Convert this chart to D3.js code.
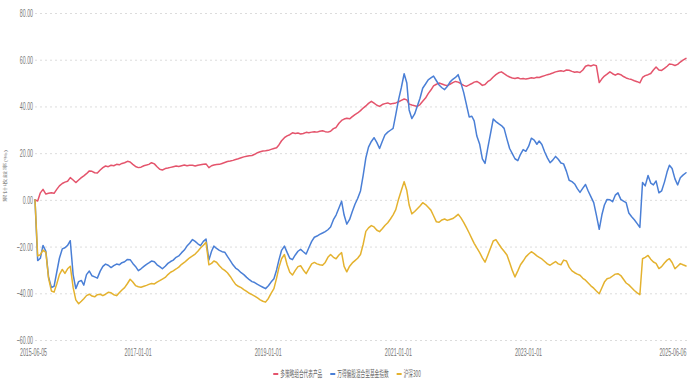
<!DOCTYPE html>
<html><head><meta charset="utf-8">
<script src="https://cdn.jsdelivr.net/npm/d3@7/dist/d3.min.js"></script>
<style>
html,body{margin:0;padding:0;background:#fff;}
svg{display:block;}
</style></head>
<body><svg id="chart" width="700" height="383"></svg>
<script>
const dates = [
"2015-06-05","2015-06-20","2015-07-05","2015-07-20","2015-08-05","2015-08-20","2015-09-05","2015-09-20","2015-10-05","2015-10-20","2015-11-05","2015-11-20","2015-12-05","2015-12-20",
"2016-01-05","2016-01-20","2016-02-05","2016-02-20","2016-03-05","2016-03-20","2016-04-05","2016-04-20","2016-05-05","2016-05-20","2016-06-05","2016-06-20","2016-07-05","2016-07-20","2016-08-05","2016-08-20","2016-09-05","2016-09-20","2016-10-05","2016-10-20","2016-11-05","2016-11-20","2016-12-05","2016-12-20",
"2017-01-05","2017-01-20","2017-02-05","2017-02-20","2017-03-05","2017-03-20","2017-04-05","2017-04-20","2017-05-05","2017-05-20","2017-06-05","2017-06-20","2017-07-05","2017-07-20","2017-08-05","2017-08-20","2017-09-05","2017-09-20","2017-10-05","2017-10-20","2017-11-05","2017-11-20","2017-12-05","2017-12-20",
"2018-01-05","2018-01-20","2018-02-05","2018-02-20","2018-03-05","2018-03-20","2018-04-05","2018-04-20","2018-05-05","2018-05-20","2018-06-05","2018-06-20","2018-07-05","2018-07-20","2018-08-05","2018-08-20","2018-09-05","2018-09-20","2018-10-05","2018-10-20","2018-11-05","2018-11-20","2018-12-05","2018-12-20",
"2019-01-05","2019-01-20","2019-02-05","2019-02-20","2019-03-05","2019-03-20","2019-04-05","2019-04-20","2019-05-05","2019-05-20","2019-06-05","2019-06-20","2019-07-05","2019-07-20","2019-08-05","2019-08-20","2019-09-05","2019-09-20","2019-10-05","2019-10-20","2019-11-05","2019-11-20","2019-12-05","2019-12-20",
"2020-01-05","2020-01-20","2020-02-05","2020-02-20","2020-03-05","2020-03-20","2020-04-05","2020-04-20","2020-05-05","2020-05-20","2020-06-05","2020-06-20","2020-07-05","2020-07-20","2020-08-05","2020-08-20","2020-09-05","2020-09-20","2020-10-05","2020-10-20","2020-11-05","2020-11-20","2020-12-05","2020-12-20",
"2021-01-05","2021-01-20","2021-02-05","2021-02-20","2021-03-05","2021-03-20","2021-04-05","2021-04-20","2021-05-05","2021-05-20","2021-06-05","2021-06-20","2021-07-05","2021-07-20","2021-08-05","2021-08-20","2021-09-05","2021-09-20","2021-10-05","2021-10-20","2021-11-05","2021-11-20","2021-12-05","2021-12-20",
"2022-01-05","2022-01-20","2022-02-05","2022-02-20","2022-03-05","2022-03-20","2022-04-05","2022-04-20","2022-05-05","2022-05-20","2022-06-05","2022-06-20","2022-07-05","2022-07-20","2022-08-05","2022-08-20","2022-09-05","2022-09-20","2022-10-05","2022-10-20","2022-11-05","2022-11-20","2022-12-05","2022-12-20",
"2023-01-05","2023-01-20","2023-02-05","2023-02-20","2023-03-05","2023-03-20","2023-04-05","2023-04-20","2023-05-05","2023-05-20","2023-06-05","2023-06-20","2023-07-05","2023-07-20","2023-08-05","2023-08-20","2023-09-05","2023-09-20","2023-10-05","2023-10-20","2023-11-05","2023-11-20","2023-12-05","2023-12-20",
"2024-01-05","2024-01-20","2024-02-05","2024-02-20","2024-03-05","2024-03-20","2024-04-05","2024-04-20","2024-05-05","2024-05-20","2024-06-05","2024-06-20","2024-07-05","2024-07-20","2024-08-05","2024-08-20","2024-09-05","2024-09-20","2024-10-05","2024-10-20","2024-11-05","2024-11-20","2024-12-05","2024-12-20",
"2025-01-05","2025-01-20","2025-02-05","2025-02-20","2025-03-05","2025-03-20","2025-04-05","2025-04-20","2025-05-05","2025-05-20","2025-06-06"
];

const seriesNames = ["多策略组合代表产品", "万得偏股混合型基金指数", "沪深300"];

const multiStrategy = [
0,-0.5,3,4.5,2.5,2.8,3,2.8,4.5,6,7,7.6,8,9.5,
8.5,7.4,8.5,9.5,10.3,11.2,12.4,12.2,11.6,11.5,12.8,13.8,14.5,14.2,14.8,14.6,15.2,15.0,15.6,15.9,16.5,16.2,15.2,14.3,
13.8,14.0,14.6,14.9,15.2,15.9,15.4,14.2,13.1,12.8,13.4,13.6,13.9,14.2,14.5,14.3,14.6,14.9,14.6,14.8,14.8,14.5,14.8,15.0,
15.2,15.4,13.8,14.6,14.9,15.1,15.2,15.6,16.0,16.4,16.6,16.9,17.3,17.6,18.0,18.4,18.7,18.9,19.0,19.5,20.2,20.6,20.9,21.0,
21.2,21.6,22.0,22.3,23.5,25.3,26.6,27.4,27.9,28.7,28.4,28.6,28.2,28.4,28.9,28.7,29.0,29.2,29.0,29.4,29.6,29.2,29.0,29.4,
30.5,31.0,32.8,34.0,34.6,34.9,34.7,35.6,36.5,37.2,38.2,39.3,40.2,41.3,42.2,41.4,40.5,40.0,40.8,41.2,41.5,41.0,41.3,41.5,
42.0,42.6,43.2,42.8,41.0,40.6,40.3,40.0,40.8,42.2,43.6,45.5,47.0,48.8,49.5,50.0,49.6,49.2,48.9,49.5,50.2,50.7,50.4,49.8,
49.0,48.6,49.2,49.8,50.4,50.7,50.0,49.0,49.4,50.6,51.4,52.6,53.6,54.4,54.8,54.0,53.2,52.6,52.2,52.0,52.3,51.8,52.0,51.7,
52.0,52.3,52.1,52.5,52.4,52.8,53.2,53.6,53.9,54.3,54.8,55.1,55.3,55.0,55.6,55.5,55.0,54.6,54.8,54.5,55.6,57.2,57.6,57.3,
57.8,57.4,50.2,51.8,53.0,53.8,54.8,54.0,53.4,54.0,53.6,52.8,52.2,51.8,51.5,51.0,50.6,50.1,52.4,53.2,53.6,54.1,55.6,56.9,
55.6,55.4,56.3,57.2,58.2,58.0,57.5,58.0,59.0,59.8,60.6
];

const fundIndex = [
0,-26,-25,-19.5,-22,-33,-37.5,-37,-31,-25,-21,-20.5,-19.5,-17.5,
-32,-38,-35,-34.5,-36.5,-32,-30.5,-32.5,-33,-33.5,-30.5,-28.5,-27.5,-28,-29,-28.2,-27.5,-27.8,-26.9,-26.5,-25.5,-25.6,-27.2,-28.5,
-30.3,-29.5,-28.5,-27.6,-27.0,-26.2,-26.5,-27.8,-28.6,-29.5,-28.4,-27.2,-26.4,-25.8,-24.6,-24.0,-22.6,-21.5,-19.8,-18.6,-17.0,-17.8,-18.8,-19.6,
-17.8,-16.8,-25.8,-22.0,-19.8,-20.8,-21.6,-22.2,-22.4,-24.2,-26.0,-27.8,-29.2,-30.0,-31.2,-32.0,-33.2,-34.2,-35.0,-35.4,-36.2,-36.8,-37.4,-38.0,
-36.8,-35.2,-33.8,-30.0,-25.8,-21.6,-19.8,-22.5,-25.0,-25.6,-23.6,-22.0,-21.2,-22.2,-23.2,-20.5,-17.8,-16.0,-15.5,-14.8,-14.2,-13.6,-12.8,-11.6,
-8.5,-6.5,-3.5,-0.6,-6.5,-10.4,-8.4,-5.0,-1.9,0.6,3.8,10.5,18.0,22.6,25.0,26.6,24.5,22.0,25.0,27.8,29.0,29.8,30.6,36.5,
43.0,48.0,54.0,50.0,38.5,34.8,36.8,40.2,43.5,47.8,49.6,51.4,52.2,53.0,51.0,49.2,48.0,47.2,48.5,50.4,51.6,52.4,53.6,50.2,
46.0,41.0,35.5,35.8,33.8,27.3,23.8,17.5,15.6,22.0,28.5,34.6,33.5,32.6,31.8,30.6,26.0,22.0,19.8,17.6,16.8,19.5,21.5,20.8,
23.0,26.4,25.6,23.8,25.2,23.7,20.5,18.0,15.9,17.0,18.6,17.4,15.8,15.4,12.2,8.4,7.8,6.8,4.8,3.2,5.0,6.6,3.8,1.4,
-1.2,-6.5,-12.6,-6.4,-2.2,0.2,0.0,-0.8,2.0,3.0,0.2,-0.5,-1.2,-5.6,-7.2,-8.5,-10.2,-11.8,7.4,6.0,10.4,7.2,6.4,8.1,
3.0,3.8,7.6,12.0,14.8,13.4,9.0,6.4,9.5,10.6,11.6
];

const csi300 = [
0,-24,-23.5,-21.5,-22.5,-33.5,-39,-39.5,-36,-32,-29.8,-31.5,-29.5,-28.4,
-37.5,-42.8,-44.5,-43.4,-42.3,-41.0,-40.4,-41.2,-41.5,-40.6,-40.4,-41.0,-40.4,-39.6,-39.8,-40.6,-41.0,-39.8,-38.6,-37.6,-35.8,-34.0,-35.2,-36.7,
-37.2,-37.4,-37.0,-36.6,-36.2,-35.8,-36.0,-35.2,-34.6,-33.9,-33.2,-32.0,-31.0,-30.4,-29.6,-28.8,-27.6,-26.8,-25.8,-24.8,-24.0,-23.2,-22.0,-20.6,
-19.4,-18.2,-27.8,-27.2,-26.2,-26.7,-28.2,-29.4,-30.2,-31.2,-32.8,-34.6,-36.2,-37.0,-37.6,-38.4,-39.2,-40.0,-40.6,-41.2,-42.0,-42.8,-43.4,-43.8,
-42.2,-40.0,-38.0,-33.5,-29.0,-25.2,-23.4,-27.8,-31.0,-32.2,-30.2,-28.6,-28.2,-30.0,-31.6,-29.6,-27.4,-26.8,-27.4,-27.8,-28.0,-26.8,-24.6,-23.4,
-24.6,-25.2,-23.6,-22.6,-28.5,-30.8,-28.4,-27.0,-26.0,-25.0,-23.4,-19.0,-13.5,-12.0,-11.0,-11.6,-13.0,-13.6,-12.4,-11.0,-9.8,-8.2,-6.4,-4.2,
0.4,4.0,7.8,4.0,-2.2,-6.0,-5.0,-3.8,-2.6,-1.2,-2.0,-3.2,-4.4,-6.8,-9.4,-9.6,-8.6,-8.2,-8.8,-8.4,-8.0,-7.2,-6.2,-7.6,
-9.6,-11.8,-14.2,-16.6,-18.6,-20.6,-22.6,-24.8,-26.7,-23.8,-20.6,-17.6,-17.0,-18.8,-20.6,-22.0,-23.6,-26.8,-30.2,-33.0,-30.4,-27.8,-26.2,-24.4,
-23.2,-22.2,-23.0,-24.0,-24.6,-25.3,-26.4,-27.4,-28.0,-27.2,-26.4,-27.4,-27.8,-25.8,-26.2,-28.8,-30.4,-31.2,-31.8,-32.3,-33.6,-34.4,-35.6,-36.8,
-37.8,-39.0,-40.2,-37.6,-35.2,-33.8,-33.4,-32.6,-31.8,-31.6,-32.4,-34.0,-35.6,-36.4,-37.6,-38.8,-39.8,-40.6,-25.2,-24.6,-23.8,-25.4,-26.6,-27.2,
-29.4,-28.6,-27.0,-25.8,-25.2,-26.8,-29.5,-28.4,-27.3,-27.8,-28.3
];

const yTicks = [80, 60, 40, 20, 0, -20, -40, -60];
const xTickLabels = ["2015-06-05", "2017-01-01", "2019-01-01", "2021-01-01", "2023-01-01", "2025-06-06"];
const yAxisTitle = "累计收益率(%)";
const colors = ["#e4546c", "#4a7fd6", "#e4b22f"];

(function () {
const parse = d3.timeParse("%Y-%m-%d");
const fmt = d3.timeFormat("%Y-%m-%d");
const svg = d3.select("#chart");

const mLeft = 35, mRight = 686, mTop = 13, mBottom = 340;
const x = d3.scaleTime().domain([parse(dates[0]), parse(dates[dates.length - 1])]).range([mLeft, mRight]);
const y = d3.scaleLinear().domain([-60, 80]).range([mBottom, mTop]);

const LABEL_FONT = "'Liberation Sans', Arial, sans-serif";
const CJK_FONT = "'Noto Sans CJK SC', 'Noto Sans', sans-serif";

// grid lines
const grid = svg.append("g").attr("transform", `translate(${mLeft},0)`)
  .call(d3.axisLeft(y).tickValues(yTicks).tickSize(-(mRight - mLeft + 2)).tickFormat(""));
grid.select(".domain").remove();
grid.selectAll(".tick line").attr("stroke", "#dcdcdc").attr("stroke-dasharray", "2,3").attr("stroke-width", 1);

// y axis labels
const ys = 0.48;
const yAxis = svg.append("g").attr("transform", `translate(${mLeft},0)`)
  .call(d3.axisLeft(y).tickValues(yTicks).tickSize(0).tickPadding(0).tickFormat(d3.format(".2f")));
yAxis.select(".domain").remove();
yAxis.selectAll(".tick text")
  .attr("x", 0).attr("transform", `translate(-2,0) scale(${ys},1)`)
  .attr("fill", "#777").style("font-family", LABEL_FONT).style("font-size", "11px");

// x axis labels
const xs = 0.53;
const xAxis = svg.append("g").attr("transform", `translate(0,${mBottom})`)
  .call(d3.axisBottom(x).tickValues(xTickLabels.map(parse)).tickSize(0).tickPadding(9).tickFormat(fmt));
xAxis.select(".domain").remove();
xAxis.selectAll(".tick text")
  .attr("fill", "#777").style("font-family", LABEL_FONT).style("font-size", "10px")
  .attr("transform", `scale(${xs},1)`)
  .attr("text-anchor", (d, i) => i === xTickLabels.length - 1 ? "end" : "middle")
  .attr("x", (d, i) => i === 0 ? -2 / xs : 0);

// y axis title (rotated, squeezed horizontally on screen)
svg.append("text")
  .attr("transform", `translate(6,176) scale(0.5,1) rotate(-90)`)
  .attr("text-anchor", "middle").attr("dy", "0.35em")
  .attr("fill", "#888").style("font-family", CJK_FONT).style("font-size", "8px")
  .text(yAxisTitle);

// lines
const seriesData = [multiStrategy, fundIndex, csi300];
const line = d3.line().x((d, i) => x(parse(dates[i]))).y(d => y(d));
seriesData.forEach((vals, k) => {
  svg.append("path").datum(vals)
    .attr("fill", "none").attr("stroke", colors[k]).attr("stroke-width", 1.5)
    .attr("stroke-linejoin", "round").attr("stroke-linecap", "round")
    .attr("d", line);
});

// legend
const ls = 0.52;
const legend = svg.append("g");
const items = seriesNames.map((name, k) => {
  const g = legend.append("g");
  g.append("rect").attr("x", 0).attr("y", -1).attr("width", 5).attr("height", 2).attr("fill", colors[k]);
  const t = g.append("text").attr("transform", `translate(7,0) scale(${ls},1)`).attr("dy", "0.35em")
    .attr("fill", "#666").style("font-family", CJK_FONT).style("font-size", "9px").text(name);
  const w = 7 + t.node().getComputedTextLength() * ls;
  return { g, w };
});
const gap = 8;
const total = d3.sum(items, d => d.w) + gap * (items.length - 1);
let cx = 347 - total / 2;
items.forEach(it => { it.g.attr("transform", `translate(${cx},374)`); cx += it.w + gap; });
})();
</script></body></html>
